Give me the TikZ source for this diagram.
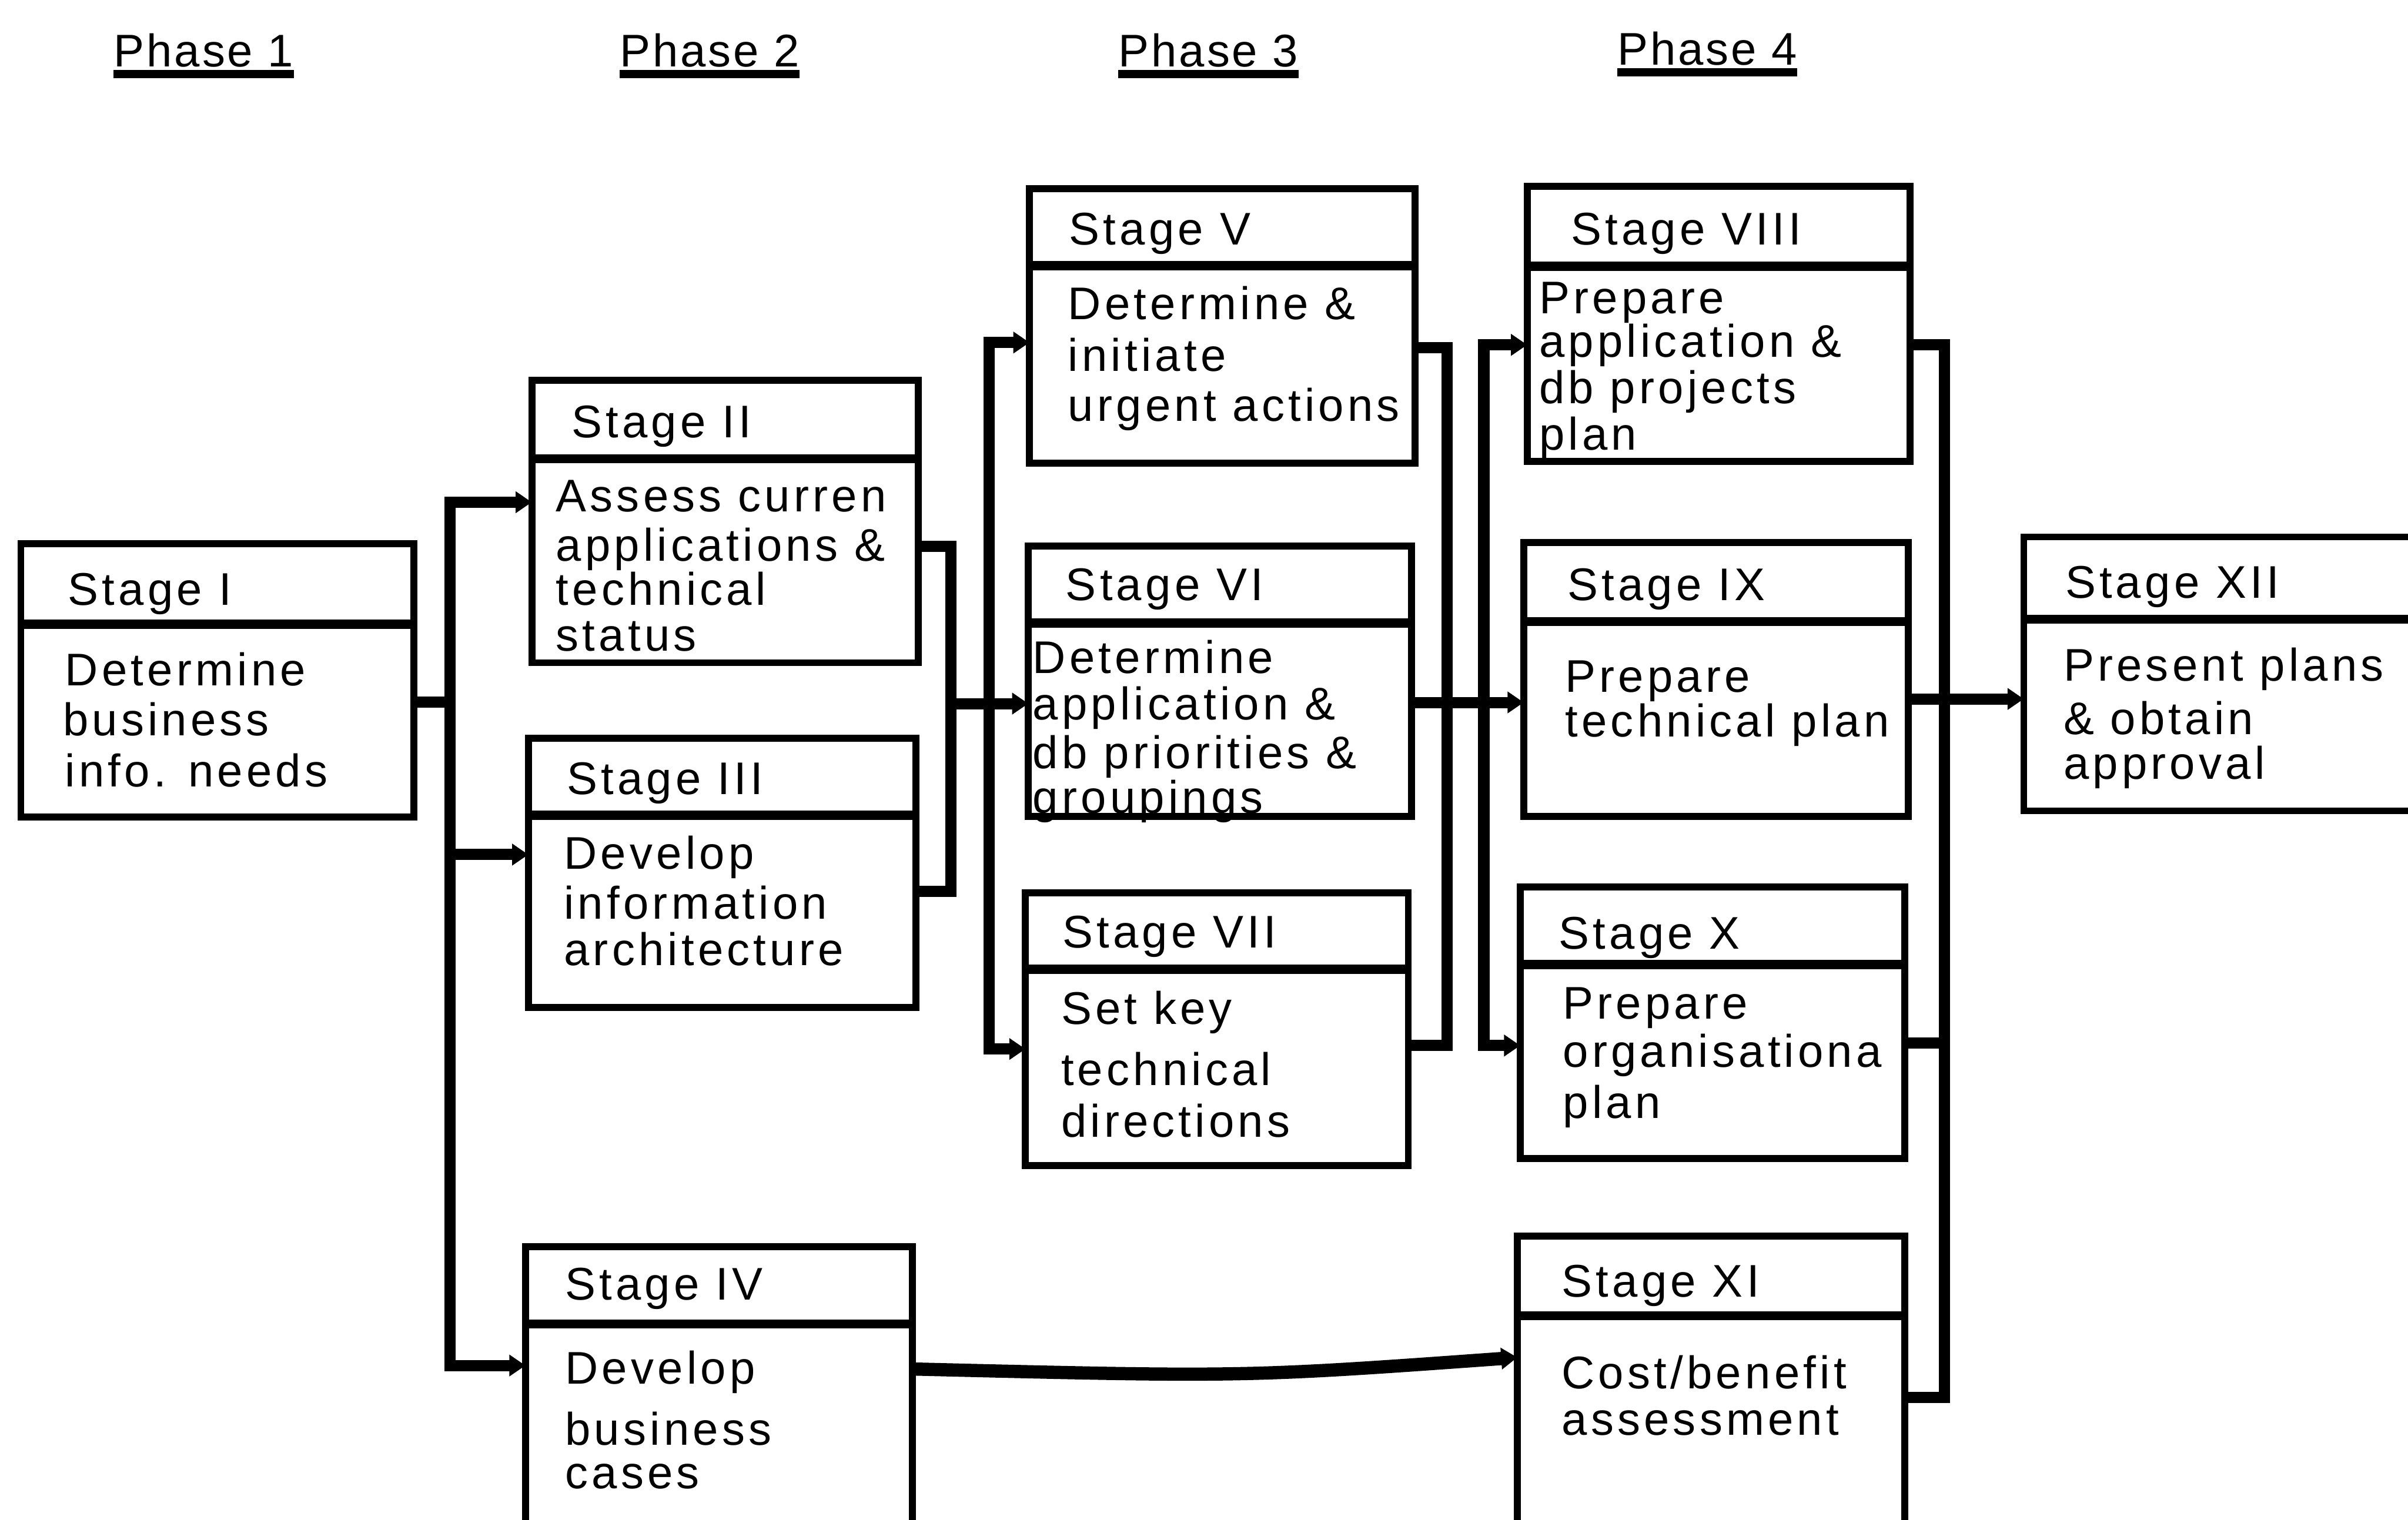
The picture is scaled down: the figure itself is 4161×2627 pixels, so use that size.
\documentclass[tikz,border=0pt]{standalone}
\usepackage{fontspec}
\setmainfont{Liberation Sans}[LetterSpace=8]
\newfontfamily\headfont{Liberation Sans}[LetterSpace=5]
\usetikzlibrary{arrows.meta}

% a stage box: name, x, y (top left), width, height, depth of the title rule
\newcommand\stg[6]{%
  \node[stagebox, minimum width=#4, minimum height=#5] (#1) at (#2,#3) {};
  \draw[divider] ([yshift=-#6]#1.north west) -- ([yshift=-#6]#1.north east);}
% one line of text: name, x, baseline y, text
\newcommand\txl[4]{\node[txt] (#1) at (#2,#3) {#4};}

\begin{document}
\begin{tikzpicture}[x=0.01cm,y=-0.01cm,
  stagebox/.style={draw, rectangle, line width=3.4pt, inner sep=0pt, outer sep=0pt, anchor=north west},
  divider/.style={line width=4.5pt},
  conn/.style={line width=5.5pt, line join=miter},
  tip/.style={-{Triangle[length=0.28cm,width=0.36cm]}},
  tips/.style={{Triangle[length=0.28cm,width=0.36cm]}-{Triangle[length=0.28cm,width=0.36cm]}},
  txt/.style={inner sep=0pt, anchor=base west, font=\fontsize{22.5}{27}\selectfont},
  phase/.style={inner sep=0pt, anchor=base, font=\headfont\fontsize{22.5}{27}\selectfont},
  uline/.style={line width=4.2pt}]

\useasboundingbox (0,0) rectangle (4161,2627);
\fill[white] (0,0) rectangle (4161,2627);
\clip (0,0) rectangle (4161,2627);

% phase headings
\node[phase] (p1) at (352,115) {Phase 1};
\node[phase] (p2) at (1226,115) {Phase 2};
\node[phase] (p3) at (2088,115) {Phase 3};
\node[phase] (p4) at (2950,112) {Phase 4};
\foreach \p in {p1,p2,p3,p4}
  \draw[uline] ([yshift=-0.13cm]\p.base west) -- ([yshift=-0.13cm]\p.base east);

% stage boxes
\stg{s1}{36}{940}{6.79cm}{4.72cm}{1.39cm}
\stg{s2}{919}{657}{6.67cm}{4.88cm}{1.36cm}
\stg{s3}{913}{1276}{6.69cm}{4.65cm}{1.33cm}
\stg{s4}{908}{2155}{6.68cm}{6.00cm}{1.33cm}
\stg{s5}{1779}{326}{6.66cm}{4.74cm}{1.33cm}
\stg{s6}{1777}{944}{6.62cm}{4.67cm}{1.33cm}
\stg{s7}{1772}{1543}{6.61cm}{4.71cm}{1.32cm}
\stg{s8}{2639}{322}{6.61cm}{4.75cm}{1.38cm}
\stg{s9}{2633}{938}{6.64cm}{4.73cm}{1.36cm}
\stg{s10}{2627}{1533}{6.64cm}{4.69cm}{1.34cm}
\stg{s11}{2622}{2136}{6.69cm}{6.00cm}{1.38cm}
\stg{s12}{3497}{928}{8.00cm}{4.73cm}{1.42cm}

% texts
\txl{s1t}{117}{1046}{Stage I}
\txl{s1a}{112}{1185}{Determine}
\txl{s1b}{108}{1271}{business}
\txl{s1c}{112}{1360}{info. needs}

\txl{s2t}{987}{756}{Stage II}
\txl{s2a}{960}{884}{Assess curren}
\txl{s2b}{960}{970}{applications \&}
\txl{s2c}{960}{1046}{technical}
\txl{s2d}{960}{1125}{status}

\txl{s3t}{979}{1373}{Stage III}
\txl{s3a}{974}{1502}{Develop}
\txl{s3b}{974}{1588}{information}
\txl{s3c}{974}{1669}{architecture}

\txl{s4t}{976}{2247}{Stage IV}
\txl{s4a}{976}{2392}{Develop}
\txl{s4b}{976}{2497}{business}
\txl{s4c}{976}{2573}{cases}

\txl{s5t}{1847}{423}{Stage V}
\txl{s5a}{1845}{552}{Determine \&}
\txl{s5b}{1845}{642}{initiate}
\txl{s5c}{1845}{728}{urgent actions}

\txl{s6t}{1841}{1038}{Stage VI}
\txl{s6a}{1784}{1164}{Determine}
\txl{s6b}{1784}{1244}{application \&}
\txl{s6c}{1784}{1328}{db priorities \&}
\txl{s6d}{1784}{1405}{groupings}

\txl{s7t}{1835}{1638}{Stage VII}
\txl{s7a}{1833}{1770}{Set key}
\txl{s7b}{1833}{1876}{technical}
\txl{s7c}{1833}{1965}{directions}

\txl{s8t}{2714}{423}{Stage VIII}
\txl{s8a}{2659}{542}{Prepare}
\txl{s8b}{2659}{617}{application \&}
\txl{s8c}{2659}{697}{db projects}
\txl{s8d}{2659}{778}{plan}

\txl{s9t}{2708}{1038}{Stage IX}
\txl{s9a}{2704}{1196}{Prepare}
\txl{s9b}{2704}{1273}{technical plan}

\txl{s10t}{2693}{1640}{Stage X}
\txl{s10a}{2700}{1761}{Prepare}
\txl{s10b}{2700}{1844}{organisationa}
\txl{s10c}{2700}{1933}{plan}

\txl{s11t}{2698}{2241}{Stage XI}
\txl{s11a}{2698}{2400}{Cost/benefit}
\txl{s11b}{2698}{2480}{assessment}

\txl{s12t}{3568}{1034}{Stage XII}
\txl{s12a}{3565}{1177}{Present plans}
\txl{s12b}{3565}{1269}{\& obtain}
\txl{s12c}{3565}{1347}{approval}

% junction points of the connectors
\coordinate (j1) at (778,1213);
\coordinate (bl1) at (778,868);
\coordinate (bl2) at (778,1477);
\coordinate (bl3) at (778,2360);

\coordinate (r2a) at (1643,944);
\coordinate (r2b) at (1643,1541);
\coordinate (m2) at (1643,1216);
\coordinate (bm1) at (1709,592);
\coordinate (bm3) at (1709,1813);

\coordinate (r5a) at (2501,601);
\coordinate (r5b) at (2501,1807);
\coordinate (m3) at (2501,1214);
\coordinate (bn1) at (2564,596);
\coordinate (bn3) at (2564,1807);

\coordinate (r8a) at (3360,596);
\coordinate (r8b) at (3360,1803);
\coordinate (r8c) at (3360,2415);
\coordinate (m4) at (3360,1208);

\coordinate (k1) at (1700,2366);
\coordinate (k2) at (2600,2346);

% phase 1 -> phase 2
\draw[conn] (s1.east |- j1) -- (j1);
\draw[conn, tips] (s2.west |- bl1) -- (bl1) -- (bl3) -- (s4.west |- bl3);
\draw[conn, tip] (bl2) -- (s3.west |- bl2);

% phase 2 -> phase 3
\draw[conn] (s2.east |- r2a) -- (r2a) -- (r2b) -- (s3.east |- r2b);
\draw[conn, tip] (m2) -- (s6.west |- m2);
\draw[conn, tips] (s5.west |- bm1) -- (bm1) -- (bm3) -- (s7.west |- bm3);

% phase 3 -> phase 4
\draw[conn] (s5.east |- r5a) -- (r5a) -- (r5b) -- (s7.east |- r5b);
\draw[conn, tip] (s6.east |- m3) -- (s9.west |- m3);
\draw[conn, tips] (s8.west |- bn1) -- (bn1) -- (bn3) -- (s10.west |- bn3);

% phase 4 -> final stage
\draw[conn] (s8.east |- r8a) -- (r8a) -- (r8c) -- (s11.east |- r8c);
\draw[conn] (s10.east |- r8b) -- (r8b);
\draw[conn, tip] (s9.east |- m4) -- (s12.west |- m4);

% business cases -> cost/benefit
\draw[conn, line width=6.5pt, tip] (s4.east |- k1) .. controls (2150,2380) .. (s11.west |- k2);

\end{tikzpicture}
\end{document}
